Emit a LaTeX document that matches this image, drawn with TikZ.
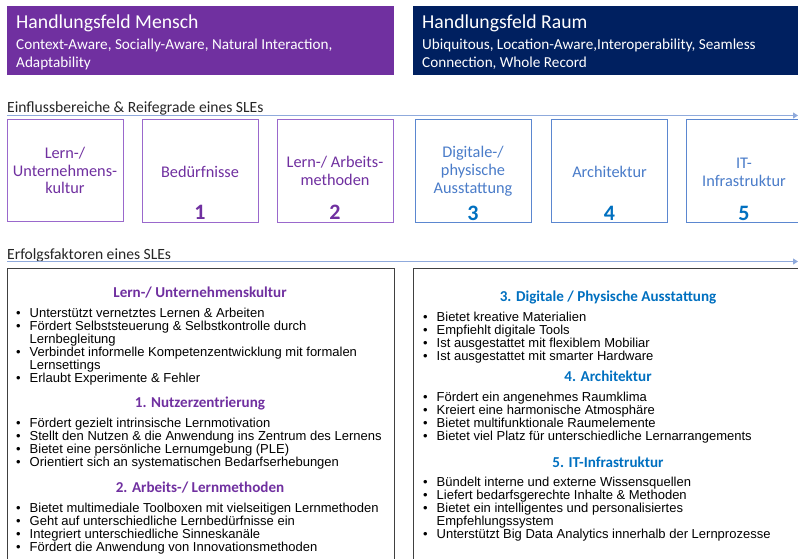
\documentclass[tikz,border=0pt]{standalone}
\usepackage{fontspec}
\setmainfont{Carlito}
\newfontfamily\arialf{Liberation Sans}
\usetikzlibrary{arrows.meta}
\definecolor{mpurple}{HTML}{7030A0}
\definecolor{mnavy}{HTML}{002060}
\definecolor{bpurple}{HTML}{9A68CC}
\definecolor{bblue}{HTML}{5B87D0}
\definecolor{tblue}{HTML}{4A7CC9}
\definecolor{nblue}{HTML}{0070C0}
\definecolor{arrowc}{HTML}{8FAADC}
\definecolor{pframe}{HTML}{404040}
\newcommand{\bi}[1]{\makebox[13.5pt][l]{•}#1\\}
\newcommand{\bc}[1]{\hspace*{13.5pt}#1\\}
\newcommand{\bl}[1]{\makebox[13.5pt][l]{•}#1}
\begin{document}
\begin{tikzpicture}[x=1pt,y=-1pt,
  bannertitle/.style={anchor=base west,inner sep=0,text=white,font=\fontsize{19.7}{24}\selectfont},
  bannersub/.style={anchor=north west,inner sep=0,text=white,align=left,font=\fontsize{15.2}{18}\selectfont},
  sechead/.style={anchor=base west,inner sep=0,text=black!85,font=\fontsize{15.6}{19}\selectfont},
  flow/.style={draw=arrowc,line width=0.9pt,-{Triangle[length=5pt,width=6pt]}},
  pbox/.style={draw=bpurple,line width=1pt,minimum width=116pt,minimum height=102pt,inner sep=0},
  bbox/.style={draw=bblue,line width=1pt,minimum width=116pt,minimum height=102pt,inner sep=0},
  btext/.style={inner sep=0,align=center,font=\fontsize{16.3}{17.8}\selectfont},
  bnum/.style={inner sep=0,font=\fontsize{22}{24}\selectfont\bfseries},
  panel/.style={draw=pframe,line width=1.1pt,inner sep=0},
  ph/.style={inner sep=0,font=\fontsize{15.1}{17}\selectfont\bfseries},
  blist/.style={anchor=north west,inner sep=0,align=left,text=black,font=\arialf\fontsize{13}{13}\selectfont}
]
\useasboundingbox (0,0) rectangle (798,559);
\fill[white] (0,0) rectangle (798,559);

% banners
\node[fill=mpurple,minimum width=387pt,minimum height=69pt,inner sep=0,anchor=north west] (mensch) at (7,6) {};
\node[fill=mnavy,minimum width=392pt,minimum height=69pt,inner sep=0,anchor=north west] (raum) at (413,6) {};
\node[bannertitle] (menscht) at (16,29) {Handlungsfeld Mensch};
\node[bannersub] (menschs) at (16,38) {\rule{0pt}{11pt}Context-Aware, Socially-Aware, Natural Interaction,\\Adaptability};
\node[bannertitle] (raumt) at (422,29) {Handlungsfeld Raum};
\node[bannersub] (raums) at (422,38) {\rule{0pt}{11pt}Ubiquitous, Location-Aware,Interoperability, Seamless\\Connection, Whole Record};

% section 1
\node[sechead] (s1) at (7,113) {Einflussbereiche \& Reifegrade eines SLEs};
\coordinate (a1s) at (7,115.5);
\coordinate (a1e) at (798,115.5);
\draw[flow] (a1s) -- (a1e);

\node[pbox] (k1) at (65,170.5) {};
\node[pbox] (k2) at (200,171) {};
\node[pbox] (k3) at (335,171) {};
\node[bbox] (k4) at (473,171) {};
\node[bbox] (k5) at (609.5,171) {};
\node[bbox] (k6) at (744,171) {};

\node[btext,text=mpurple] (l1) at (65,170.5) {Lern-/\\Unternehmens-\\kultur};
\node[btext,text=mpurple] (l2) at (200,172) {Bedürfnisse};
\node[bnum,text=mpurple] (n2) at (200,212) {1};
\node[btext,text=mpurple] (l3) at (335,171) {Lern-/ Arbeits-\\methoden};
\node[bnum,text=mpurple] (n3) at (335,212) {2};
\node[btext,text=tblue] (l4) at (473,171) {Digitale-/\\physische\\Ausstattung};
\node[bnum,text=nblue] (n4) at (473,213) {3};
\node[btext,text=tblue] (l5) at (609.5,172) {Architektur};
\node[bnum,text=nblue] (n5) at (609.5,213) {4};
\node[btext,text=tblue] (l6) at (744,172) {IT-\\Infrastruktur};
\node[bnum,text=nblue] (n6) at (744,213) {5};

% section 2
\node[sechead] (s2) at (7,259) {Erfolgsfaktoren eines SLEs};
\coordinate (a2s) at (7,261.5);
\coordinate (a2e) at (798,261.5);
\draw[flow] (a2s) -- (a2e);

\node[panel,minimum width=387pt,minimum height=300pt,anchor=north west] (pl) at (7,268) {};
\node[panel,minimum width=392pt,minimum height=300pt,anchor=north west] (pr) at (413,268) {};

% left panel
\node[ph,text=mpurple] (h0) at (200,293) {Lern-/ Unternehmenskultur};
\node[blist] (b0) at (16,307) {\rule{0pt}{10pt}\bi{Unterstützt vernetztes Lernen \& Arbeiten}\bi{Fördert Selbststeuerung \& Selbstkontrolle durch}\bc{Lernbegleitung}\bi{Verbindet informelle Kompetenzentwicklung mit formalen}\bc{Lernsettings}\bl{Erlaubt Experimente \& Fehler}};
\node[ph,text=mpurple] (h1) at (200,403) {1. Nutzerzentrierung};
\node[blist] (b1) at (16,417) {\rule{0pt}{10pt}\bi{Fördert gezielt intrinsische Lernmotivation}\bi{Stellt den Nutzen \& die Anwendung ins Zentrum des Lernens}\bi{Bietet eine persönliche Lernumgebung (PLE)}\bl{Orientiert sich an systematischen Bedarfserhebungen}};
\node[ph,text=mpurple] (h2) at (200,488) {2. Arbeits-/ Lernmethoden};
\node[blist] (b2) at (16,502) {\rule{0pt}{10pt}\bi{Bietet multimediale Toolboxen mit vielseitigen Lernmethoden}\bi{Geht auf unterschiedliche Lernbedürfnisse ein}\bi{Integriert unterschiedliche Sinneskanäle}\bl{Fördert die Anwendung von Innovationsmethoden}};

% right panel
\node[ph,text=nblue] (h3) at (608,297) {3. Digitale / Physische Ausstattung};
\node[blist] (b3) at (423,311) {\rule{0pt}{10pt}\bi{Bietet kreative Materialien}\bi{Empfiehlt digitale Tools}\bi{Ist ausgestattet mit flexiblem Mobiliar}\bl{Ist ausgestattet mit smarter Hardware}};
\node[ph,text=nblue] (h4) at (608,376) {4. Architektur};
\node[blist] (b4) at (423,391) {\rule{0pt}{10pt}\bi{Fördert ein angenehmes Raumklima}\bi{Kreiert eine harmonische Atmosphäre}\bi{Bietet multifunktionale Raumelemente}\bl{Bietet viel Platz für unterschiedliche Lernarrangements}};
\node[ph,text=nblue] (h5) at (608,462) {5. IT-Infrastruktur};
\node[blist] (b5) at (423,476) {\rule{0pt}{10pt}\bi{Bündelt interne und externe Wissensquellen}\bi{Liefert bedarfsgerechte Inhalte \& Methoden}\bi{Bietet ein intelligentes und personalisiertes}\bc{Empfehlungssystem}\bl{Unterstützt Big Data Analytics innerhalb der Lernprozesse}};
\end{tikzpicture}
\end{document}
